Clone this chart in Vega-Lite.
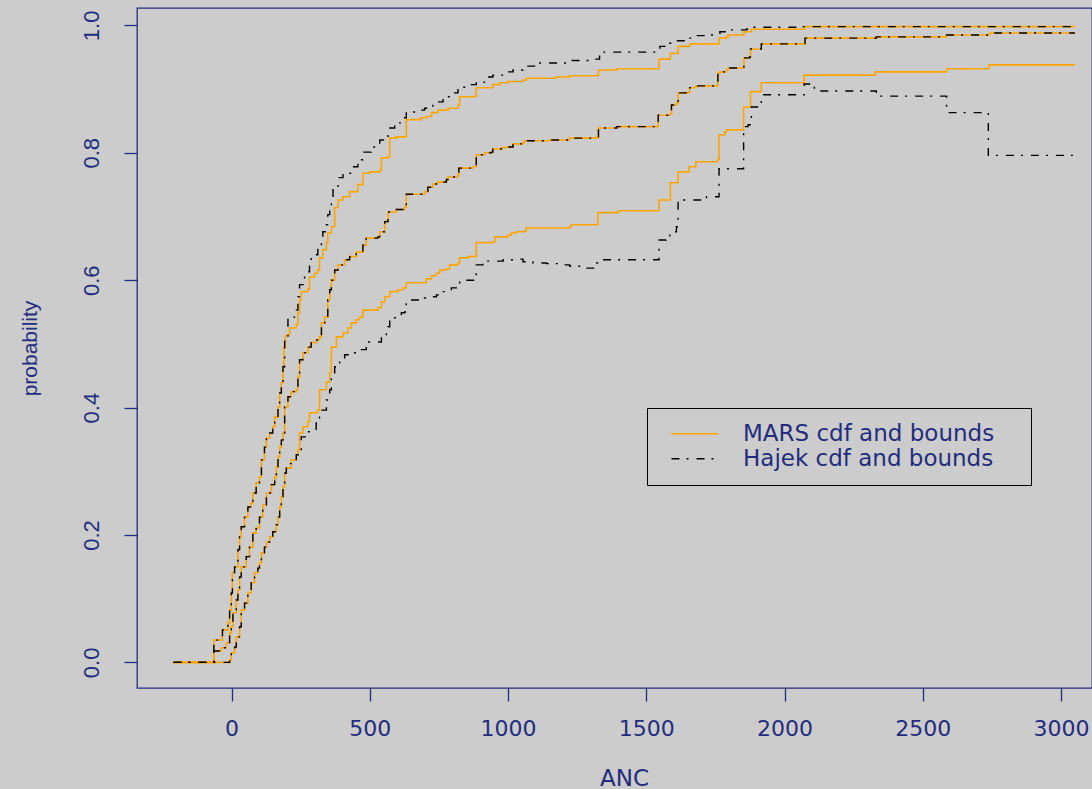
{
"$schema":"https://vega.github.io/schema/vega-lite/v6.json",
"width":955,"height":680,
"autosize":{"type":"none"},
"padding":{"left":137,"top":8,"right":0,"bottom":101},
"background":"#cccccc",
"config":{"view":{"stroke":"#232c7e","strokeWidth":1.3}},
"data":{"values":[
{"m":"MARS","s":"U","x":-210,"y":0},{"m":"MARS","s":"U","x":-64,"y":0.035},{"m":"MARS","s":"U","x":-33,"y":0.051},{"m":"MARS","s":"U","x":-13,"y":0.062},{"m":"MARS","s":"U","x":-7,"y":0.082},{"m":"MARS","s":"U","x":-1,"y":0.109},{"m":"MARS","s":"U","x":3,"y":0.141},{"m":"MARS","s":"U","x":11,"y":0.150},{"m":"MARS","s":"U","x":23,"y":0.177},{"m":"MARS","s":"U","x":29,"y":0.197},{"m":"MARS","s":"U","x":35,"y":0.213},{"m":"MARS","s":"U","x":47,"y":0.228},{"m":"MARS","s":"U","x":59,"y":0.244},{"m":"MARS","s":"U","x":71,"y":0.250},{"m":"MARS","s":"U","x":77,"y":0.266},{"m":"MARS","s":"U","x":89,"y":0.282},{"m":"MARS","s":"U","x":101,"y":0.291},{"m":"MARS","s":"U","x":108,"y":0.318},{"m":"MARS","s":"U","x":119,"y":0.338},{"m":"MARS","s":"U","x":126,"y":0.352},{"m":"MARS","s":"U","x":138,"y":0.360},{"m":"MARS","s":"U","x":149,"y":0.370},{"m":"MARS","s":"U","x":156,"y":0.385},{"m":"MARS","s":"U","x":168,"y":0.401},{"m":"MARS","s":"U","x":174,"y":0.423},{"m":"MARS","s":"U","x":180,"y":0.439},{"m":"MARS","s":"U","x":186,"y":0.464},{"m":"MARS","s":"U","x":189,"y":0.495},{"m":"MARS","s":"U","x":195,"y":0.514},{"m":"MARS","s":"U","x":210,"y":0.525},{"m":"MARS","s":"U","x":234,"y":0.530},{"m":"MARS","s":"U","x":240,"y":0.549},{"m":"MARS","s":"U","x":246,"y":0.569},{"m":"MARS","s":"U","x":252,"y":0.582},{"m":"MARS","s":"U","x":276,"y":0.586},{"m":"MARS","s":"U","x":282,"y":0.605},{"m":"MARS","s":"U","x":300,"y":0.611},{"m":"MARS","s":"U","x":312,"y":0.616},{"m":"MARS","s":"U","x":318,"y":0.635},{"m":"MARS","s":"U","x":330,"y":0.648},{"m":"MARS","s":"U","x":343,"y":0.659},{"m":"MARS","s":"U","x":348,"y":0.674},{"m":"MARS","s":"U","x":361,"y":0.684},{"m":"MARS","s":"U","x":373,"y":0.714},{"m":"MARS","s":"U","x":385,"y":0.726},{"m":"MARS","s":"U","x":403,"y":0.731},{"m":"MARS","s":"U","x":427,"y":0.739},{"m":"MARS","s":"U","x":457,"y":0.750},{"m":"MARS","s":"U","x":475,"y":0.768},{"m":"MARS","s":"U","x":499,"y":0.770},{"m":"MARS","s":"U","x":536,"y":0.773},{"m":"MARS","s":"U","x":542,"y":0.792},{"m":"MARS","s":"U","x":566,"y":0.794},{"m":"MARS","s":"U","x":572,"y":0.823},{"m":"MARS","s":"U","x":596,"y":0.825},{"m":"MARS","s":"U","x":632,"y":0.852},{"m":"MARS","s":"U","x":686,"y":0.855},{"m":"MARS","s":"U","x":704,"y":0.857},{"m":"MARS","s":"U","x":723,"y":0.863},{"m":"MARS","s":"U","x":746,"y":0.867},{"m":"MARS","s":"U","x":783,"y":0.870},{"m":"MARS","s":"U","x":819,"y":0.875},{"m":"MARS","s":"U","x":825,"y":0.888},{"m":"MARS","s":"U","x":879,"y":0.889},{"m":"MARS","s":"U","x":885,"y":0.902},{"m":"MARS","s":"U","x":945,"y":0.907},{"m":"MARS","s":"U","x":970,"y":0.910},{"m":"MARS","s":"U","x":1000,"y":0.912},{"m":"MARS","s":"U","x":1054,"y":0.914},{"m":"MARS","s":"U","x":1066,"y":0.917},{"m":"MARS","s":"U","x":1174,"y":0.919},{"m":"MARS","s":"U","x":1222,"y":0.921},{"m":"MARS","s":"U","x":1322,"y":0.922},{"m":"MARS","s":"U","x":1327,"y":0.930},{"m":"MARS","s":"U","x":1393,"y":0.932},{"m":"MARS","s":"U","x":1546,"y":0.947},{"m":"MARS","s":"U","x":1587,"y":0.956},{"m":"MARS","s":"U","x":1615,"y":0.967},{"m":"MARS","s":"U","x":1657,"y":0.971},{"m":"MARS","s":"U","x":1763,"y":0.980},{"m":"MARS","s":"U","x":1790,"y":0.982},{"m":"MARS","s":"U","x":1796,"y":0.985},{"m":"MARS","s":"U","x":1853,"y":0.990},{"m":"MARS","s":"U","x":1880,"y":0.994},{"m":"MARS","s":"U","x":2073,"y":0.998},{"m":"MARS","s":"U","x":3050,"y":0.998},
{"m":"Hajek","s":"U","x":-210,"y":0},{"m":"Hajek","s":"U","x":-64,"y":0.035},{"m":"Hajek","s":"U","x":-33,"y":0.051},{"m":"Hajek","s":"U","x":-13,"y":0.062},{"m":"Hajek","s":"U","x":-7,"y":0.082},{"m":"Hajek","s":"U","x":-1,"y":0.109},{"m":"Hajek","s":"U","x":3,"y":0.141},{"m":"Hajek","s":"U","x":11,"y":0.150},{"m":"Hajek","s":"U","x":23,"y":0.177},{"m":"Hajek","s":"U","x":29,"y":0.197},{"m":"Hajek","s":"U","x":35,"y":0.213},{"m":"Hajek","s":"U","x":47,"y":0.228},{"m":"Hajek","s":"U","x":59,"y":0.244},{"m":"Hajek","s":"U","x":71,"y":0.250},{"m":"Hajek","s":"U","x":77,"y":0.266},{"m":"Hajek","s":"U","x":89,"y":0.282},{"m":"Hajek","s":"U","x":101,"y":0.291},{"m":"Hajek","s":"U","x":108,"y":0.318},{"m":"Hajek","s":"U","x":119,"y":0.338},{"m":"Hajek","s":"U","x":126,"y":0.352},{"m":"Hajek","s":"U","x":138,"y":0.360},{"m":"Hajek","s":"U","x":149,"y":0.370},{"m":"Hajek","s":"U","x":156,"y":0.385},{"m":"Hajek","s":"U","x":168,"y":0.401},{"m":"Hajek","s":"U","x":174,"y":0.423},{"m":"Hajek","s":"U","x":180,"y":0.439},{"m":"Hajek","s":"U","x":186,"y":0.464},{"m":"Hajek","s":"U","x":192,"y":0.511},{"m":"Hajek","s":"U","x":204,"y":0.541},{"m":"Hajek","s":"U","x":216,"y":0.542},{"m":"Hajek","s":"U","x":234,"y":0.553},{"m":"Hajek","s":"U","x":240,"y":0.574},{"m":"Hajek","s":"U","x":246,"y":0.593},{"m":"Hajek","s":"U","x":264,"y":0.613},{"m":"Hajek","s":"U","x":282,"y":0.627},{"m":"Hajek","s":"U","x":288,"y":0.635},{"m":"Hajek","s":"U","x":300,"y":0.640},{"m":"Hajek","s":"U","x":312,"y":0.652},{"m":"Hajek","s":"U","x":325,"y":0.668},{"m":"Hajek","s":"U","x":330,"y":0.676},{"m":"Hajek","s":"U","x":343,"y":0.687},{"m":"Hajek","s":"U","x":348,"y":0.703},{"m":"Hajek","s":"U","x":355,"y":0.715},{"m":"Hajek","s":"U","x":361,"y":0.726},{"m":"Hajek","s":"U","x":367,"y":0.746},{"m":"Hajek","s":"U","x":385,"y":0.761},{"m":"Hajek","s":"U","x":403,"y":0.768},{"m":"Hajek","s":"U","x":433,"y":0.778},{"m":"Hajek","s":"U","x":457,"y":0.789},{"m":"Hajek","s":"U","x":475,"y":0.801},{"m":"Hajek","s":"U","x":505,"y":0.809},{"m":"Hajek","s":"U","x":536,"y":0.820},{"m":"Hajek","s":"U","x":566,"y":0.839},{"m":"Hajek","s":"U","x":590,"y":0.847},{"m":"Hajek","s":"U","x":626,"y":0.855},{"m":"Hajek","s":"U","x":632,"y":0.864},{"m":"Hajek","s":"U","x":674,"y":0.867},{"m":"Hajek","s":"U","x":698,"y":0.870},{"m":"Hajek","s":"U","x":728,"y":0.880},{"m":"Hajek","s":"U","x":765,"y":0.888},{"m":"Hajek","s":"U","x":801,"y":0.894},{"m":"Hajek","s":"U","x":819,"y":0.903},{"m":"Hajek","s":"U","x":861,"y":0.907},{"m":"Hajek","s":"U","x":885,"y":0.911},{"m":"Hajek","s":"U","x":922,"y":0.919},{"m":"Hajek","s":"U","x":945,"y":0.922},{"m":"Hajek","s":"U","x":988,"y":0.927},{"m":"Hajek","s":"U","x":1018,"y":0.930},{"m":"Hajek","s":"U","x":1054,"y":0.936},{"m":"Hajek","s":"U","x":1096,"y":0.941},{"m":"Hajek","s":"U","x":1216,"y":0.945},{"m":"Hajek","s":"U","x":1297,"y":0.947},{"m":"Hajek","s":"U","x":1331,"y":0.958},{"m":"Hajek","s":"U","x":1549,"y":0.967},{"m":"Hajek","s":"U","x":1585,"y":0.972},{"m":"Hajek","s":"U","x":1603,"y":0.976},{"m":"Hajek","s":"U","x":1645,"y":0.980},{"m":"Hajek","s":"U","x":1669,"y":0.984},{"m":"Hajek","s":"U","x":1717,"y":0.985},{"m":"Hajek","s":"U","x":1754,"y":0.987},{"m":"Hajek","s":"U","x":1766,"y":0.990},{"m":"Hajek","s":"U","x":1790,"y":0.993},{"m":"Hajek","s":"U","x":1862,"y":0.994},{"m":"Hajek","s":"U","x":1880,"y":0.997},{"m":"Hajek","s":"U","x":2067,"y":0.998},{"m":"Hajek","s":"U","x":3050,"y":0.999},
{"m":"MARS","s":"M","x":-210,"y":0},{"m":"MARS","s":"M","x":-64,"y":0.018},{"m":"MARS","s":"M","x":-37,"y":0.023},{"m":"MARS","s":"M","x":-19,"y":0.031},{"m":"MARS","s":"M","x":-7,"y":0.046},{"m":"MARS","s":"M","x":-1,"y":0.056},{"m":"MARS","s":"M","x":5,"y":0.078},{"m":"MARS","s":"M","x":17,"y":0.098},{"m":"MARS","s":"M","x":23,"y":0.114},{"m":"MARS","s":"M","x":29,"y":0.134},{"m":"MARS","s":"M","x":35,"y":0.150},{"m":"MARS","s":"M","x":53,"y":0.166},{"m":"MARS","s":"M","x":65,"y":0.181},{"m":"MARS","s":"M","x":77,"y":0.203},{"m":"MARS","s":"M","x":89,"y":0.211},{"m":"MARS","s":"M","x":101,"y":0.228},{"m":"MARS","s":"M","x":113,"y":0.247},{"m":"MARS","s":"M","x":126,"y":0.266},{"m":"MARS","s":"M","x":144,"y":0.279},{"m":"MARS","s":"M","x":156,"y":0.291},{"m":"MARS","s":"M","x":162,"y":0.307},{"m":"MARS","s":"M","x":168,"y":0.323},{"m":"MARS","s":"M","x":174,"y":0.338},{"m":"MARS","s":"M","x":180,"y":0.349},{"m":"MARS","s":"M","x":186,"y":0.360},{"m":"MARS","s":"M","x":192,"y":0.401},{"m":"MARS","s":"M","x":204,"y":0.417},{"m":"MARS","s":"M","x":216,"y":0.425},{"m":"MARS","s":"M","x":234,"y":0.428},{"m":"MARS","s":"M","x":240,"y":0.448},{"m":"MARS","s":"M","x":246,"y":0.475},{"m":"MARS","s":"M","x":258,"y":0.486},{"m":"MARS","s":"M","x":276,"y":0.495},{"m":"MARS","s":"M","x":288,"y":0.502},{"m":"MARS","s":"M","x":306,"y":0.506},{"m":"MARS","s":"M","x":318,"y":0.511},{"m":"MARS","s":"M","x":325,"y":0.533},{"m":"MARS","s":"M","x":337,"y":0.542},{"m":"MARS","s":"M","x":348,"y":0.569},{"m":"MARS","s":"M","x":355,"y":0.585},{"m":"MARS","s":"M","x":361,"y":0.600},{"m":"MARS","s":"M","x":373,"y":0.616},{"m":"MARS","s":"M","x":385,"y":0.624},{"m":"MARS","s":"M","x":409,"y":0.632},{"m":"MARS","s":"M","x":427,"y":0.637},{"m":"MARS","s":"M","x":451,"y":0.644},{"m":"MARS","s":"M","x":475,"y":0.655},{"m":"MARS","s":"M","x":487,"y":0.666},{"m":"MARS","s":"M","x":529,"y":0.668},{"m":"MARS","s":"M","x":536,"y":0.676},{"m":"MARS","s":"M","x":554,"y":0.692},{"m":"MARS","s":"M","x":566,"y":0.707},{"m":"MARS","s":"M","x":596,"y":0.711},{"m":"MARS","s":"M","x":626,"y":0.715},{"m":"MARS","s":"M","x":632,"y":0.735},{"m":"MARS","s":"M","x":698,"y":0.739},{"m":"MARS","s":"M","x":710,"y":0.746},{"m":"MARS","s":"M","x":728,"y":0.751},{"m":"MARS","s":"M","x":746,"y":0.754},{"m":"MARS","s":"M","x":777,"y":0.758},{"m":"MARS","s":"M","x":783,"y":0.762},{"m":"MARS","s":"M","x":819,"y":0.765},{"m":"MARS","s":"M","x":822,"y":0.776},{"m":"MARS","s":"M","x":873,"y":0.778},{"m":"MARS","s":"M","x":885,"y":0.797},{"m":"MARS","s":"M","x":915,"y":0.800},{"m":"MARS","s":"M","x":940,"y":0.801},{"m":"MARS","s":"M","x":945,"y":0.806},{"m":"MARS","s":"M","x":976,"y":0.808},{"m":"MARS","s":"M","x":994,"y":0.809},{"m":"MARS","s":"M","x":1018,"y":0.814},{"m":"MARS","s":"M","x":1054,"y":0.816},{"m":"MARS","s":"M","x":1060,"y":0.819},{"m":"MARS","s":"M","x":1150,"y":0.820},{"m":"MARS","s":"M","x":1222,"y":0.823},{"m":"MARS","s":"M","x":1322,"y":0.825},{"m":"MARS","s":"M","x":1327,"y":0.839},{"m":"MARS","s":"M","x":1393,"y":0.841},{"m":"MARS","s":"M","x":1543,"y":0.859},{"m":"MARS","s":"M","x":1585,"y":0.861},{"m":"MARS","s":"M","x":1591,"y":0.875},{"m":"MARS","s":"M","x":1609,"y":0.878},{"m":"MARS","s":"M","x":1615,"y":0.894},{"m":"MARS","s":"M","x":1651,"y":0.895},{"m":"MARS","s":"M","x":1657,"y":0.902},{"m":"MARS","s":"M","x":1675,"y":0.903},{"m":"MARS","s":"M","x":1681,"y":0.905},{"m":"MARS","s":"M","x":1759,"y":0.925},{"m":"MARS","s":"M","x":1766,"y":0.927},{"m":"MARS","s":"M","x":1790,"y":0.930},{"m":"MARS","s":"M","x":1796,"y":0.933},{"m":"MARS","s":"M","x":1853,"y":0.949},{"m":"MARS","s":"M","x":1874,"y":0.951},{"m":"MARS","s":"M","x":1877,"y":0.963},{"m":"MARS","s":"M","x":1916,"y":0.971},{"m":"MARS","s":"M","x":2074,"y":0.980},{"m":"MARS","s":"M","x":2332,"y":0.982},{"m":"MARS","s":"M","x":2586,"y":0.985},{"m":"MARS","s":"M","x":2742,"y":0.988},{"m":"MARS","s":"M","x":3050,"y":0.988},
{"m":"Hajek","s":"M","x":-210,"y":0},{"m":"Hajek","s":"M","x":-64,"y":0.018},{"m":"Hajek","s":"M","x":-37,"y":0.023},{"m":"Hajek","s":"M","x":-19,"y":0.031},{"m":"Hajek","s":"M","x":-7,"y":0.046},{"m":"Hajek","s":"M","x":-1,"y":0.056},{"m":"Hajek","s":"M","x":5,"y":0.078},{"m":"Hajek","s":"M","x":17,"y":0.098},{"m":"Hajek","s":"M","x":23,"y":0.114},{"m":"Hajek","s":"M","x":29,"y":0.134},{"m":"Hajek","s":"M","x":35,"y":0.150},{"m":"Hajek","s":"M","x":53,"y":0.166},{"m":"Hajek","s":"M","x":65,"y":0.181},{"m":"Hajek","s":"M","x":77,"y":0.203},{"m":"Hajek","s":"M","x":89,"y":0.211},{"m":"Hajek","s":"M","x":101,"y":0.228},{"m":"Hajek","s":"M","x":113,"y":0.247},{"m":"Hajek","s":"M","x":126,"y":0.266},{"m":"Hajek","s":"M","x":144,"y":0.279},{"m":"Hajek","s":"M","x":156,"y":0.291},{"m":"Hajek","s":"M","x":162,"y":0.307},{"m":"Hajek","s":"M","x":168,"y":0.323},{"m":"Hajek","s":"M","x":174,"y":0.338},{"m":"Hajek","s":"M","x":180,"y":0.349},{"m":"Hajek","s":"M","x":186,"y":0.360},{"m":"Hajek","s":"M","x":192,"y":0.401},{"m":"Hajek","s":"M","x":204,"y":0.417},{"m":"Hajek","s":"M","x":216,"y":0.425},{"m":"Hajek","s":"M","x":234,"y":0.428},{"m":"Hajek","s":"M","x":240,"y":0.448},{"m":"Hajek","s":"M","x":246,"y":0.475},{"m":"Hajek","s":"M","x":258,"y":0.486},{"m":"Hajek","s":"M","x":276,"y":0.495},{"m":"Hajek","s":"M","x":288,"y":0.502},{"m":"Hajek","s":"M","x":306,"y":0.506},{"m":"Hajek","s":"M","x":318,"y":0.511},{"m":"Hajek","s":"M","x":325,"y":0.533},{"m":"Hajek","s":"M","x":337,"y":0.542},{"m":"Hajek","s":"M","x":348,"y":0.569},{"m":"Hajek","s":"M","x":355,"y":0.585},{"m":"Hajek","s":"M","x":361,"y":0.600},{"m":"Hajek","s":"M","x":373,"y":0.616},{"m":"Hajek","s":"M","x":385,"y":0.624},{"m":"Hajek","s":"M","x":409,"y":0.632},{"m":"Hajek","s":"M","x":427,"y":0.637},{"m":"Hajek","s":"M","x":451,"y":0.644},{"m":"Hajek","s":"M","x":475,"y":0.655},{"m":"Hajek","s":"M","x":487,"y":0.666},{"m":"Hajek","s":"M","x":529,"y":0.668},{"m":"Hajek","s":"M","x":536,"y":0.676},{"m":"Hajek","s":"M","x":554,"y":0.692},{"m":"Hajek","s":"M","x":566,"y":0.707},{"m":"Hajek","s":"M","x":596,"y":0.711},{"m":"Hajek","s":"M","x":626,"y":0.715},{"m":"Hajek","s":"M","x":632,"y":0.735},{"m":"Hajek","s":"M","x":698,"y":0.739},{"m":"Hajek","s":"M","x":710,"y":0.746},{"m":"Hajek","s":"M","x":728,"y":0.751},{"m":"Hajek","s":"M","x":746,"y":0.754},{"m":"Hajek","s":"M","x":777,"y":0.758},{"m":"Hajek","s":"M","x":783,"y":0.762},{"m":"Hajek","s":"M","x":819,"y":0.765},{"m":"Hajek","s":"M","x":822,"y":0.776},{"m":"Hajek","s":"M","x":873,"y":0.778},{"m":"Hajek","s":"M","x":885,"y":0.797},{"m":"Hajek","s":"M","x":915,"y":0.800},{"m":"Hajek","s":"M","x":940,"y":0.801},{"m":"Hajek","s":"M","x":945,"y":0.806},{"m":"Hajek","s":"M","x":976,"y":0.808},{"m":"Hajek","s":"M","x":994,"y":0.809},{"m":"Hajek","s":"M","x":1018,"y":0.814},{"m":"Hajek","s":"M","x":1054,"y":0.816},{"m":"Hajek","s":"M","x":1060,"y":0.819},{"m":"Hajek","s":"M","x":1150,"y":0.820},{"m":"Hajek","s":"M","x":1222,"y":0.823},{"m":"Hajek","s":"M","x":1322,"y":0.825},{"m":"Hajek","s":"M","x":1327,"y":0.839},{"m":"Hajek","s":"M","x":1393,"y":0.841},{"m":"Hajek","s":"M","x":1543,"y":0.859},{"m":"Hajek","s":"M","x":1585,"y":0.861},{"m":"Hajek","s":"M","x":1591,"y":0.875},{"m":"Hajek","s":"M","x":1609,"y":0.878},{"m":"Hajek","s":"M","x":1615,"y":0.894},{"m":"Hajek","s":"M","x":1651,"y":0.895},{"m":"Hajek","s":"M","x":1657,"y":0.902},{"m":"Hajek","s":"M","x":1675,"y":0.903},{"m":"Hajek","s":"M","x":1681,"y":0.905},{"m":"Hajek","s":"M","x":1759,"y":0.925},{"m":"Hajek","s":"M","x":1766,"y":0.927},{"m":"Hajek","s":"M","x":1790,"y":0.930},{"m":"Hajek","s":"M","x":1796,"y":0.933},{"m":"Hajek","s":"M","x":1853,"y":0.949},{"m":"Hajek","s":"M","x":1874,"y":0.951},{"m":"Hajek","s":"M","x":1877,"y":0.963},{"m":"Hajek","s":"M","x":1916,"y":0.971},{"m":"Hajek","s":"M","x":2074,"y":0.980},{"m":"Hajek","s":"M","x":2332,"y":0.982},{"m":"Hajek","s":"M","x":2586,"y":0.985},{"m":"Hajek","s":"M","x":2742,"y":0.988},{"m":"Hajek","s":"M","x":3050,"y":0.988},
{"m":"MARS","s":"L","x":-210,"y":0},{"m":"MARS","s":"L","x":-7,"y":0.004},{"m":"MARS","s":"L","x":-1,"y":0.015},{"m":"MARS","s":"L","x":11,"y":0.024},{"m":"MARS","s":"L","x":17,"y":0.040},{"m":"MARS","s":"L","x":29,"y":0.056},{"m":"MARS","s":"L","x":35,"y":0.082},{"m":"MARS","s":"L","x":47,"y":0.093},{"m":"MARS","s":"L","x":59,"y":0.109},{"m":"MARS","s":"L","x":71,"y":0.125},{"m":"MARS","s":"L","x":83,"y":0.141},{"m":"MARS","s":"L","x":95,"y":0.148},{"m":"MARS","s":"L","x":101,"y":0.156},{"m":"MARS","s":"L","x":108,"y":0.172},{"m":"MARS","s":"L","x":119,"y":0.181},{"m":"MARS","s":"L","x":126,"y":0.189},{"m":"MARS","s":"L","x":138,"y":0.197},{"m":"MARS","s":"L","x":149,"y":0.205},{"m":"MARS","s":"L","x":162,"y":0.216},{"m":"MARS","s":"L","x":168,"y":0.228},{"m":"MARS","s":"L","x":174,"y":0.244},{"m":"MARS","s":"L","x":180,"y":0.260},{"m":"MARS","s":"L","x":186,"y":0.276},{"m":"MARS","s":"L","x":192,"y":0.297},{"m":"MARS","s":"L","x":198,"y":0.305},{"m":"MARS","s":"L","x":216,"y":0.318},{"m":"MARS","s":"L","x":234,"y":0.326},{"m":"MARS","s":"L","x":240,"y":0.334},{"m":"MARS","s":"L","x":246,"y":0.360},{"m":"MARS","s":"L","x":258,"y":0.370},{"m":"MARS","s":"L","x":276,"y":0.378},{"m":"MARS","s":"L","x":282,"y":0.392},{"m":"MARS","s":"L","x":312,"y":0.396},{"m":"MARS","s":"L","x":318,"y":0.428},{"m":"MARS","s":"L","x":343,"y":0.440},{"m":"MARS","s":"L","x":355,"y":0.455},{"m":"MARS","s":"L","x":361,"y":0.495},{"m":"MARS","s":"L","x":379,"y":0.511},{"m":"MARS","s":"L","x":403,"y":0.517},{"m":"MARS","s":"L","x":421,"y":0.525},{"m":"MARS","s":"L","x":433,"y":0.533},{"m":"MARS","s":"L","x":451,"y":0.538},{"m":"MARS","s":"L","x":463,"y":0.542},{"m":"MARS","s":"L","x":475,"y":0.553},{"m":"MARS","s":"L","x":529,"y":0.557},{"m":"MARS","s":"L","x":542,"y":0.566},{"m":"MARS","s":"L","x":554,"y":0.574},{"m":"MARS","s":"L","x":572,"y":0.582},{"m":"MARS","s":"L","x":602,"y":0.585},{"m":"MARS","s":"L","x":620,"y":0.588},{"m":"MARS","s":"L","x":632,"y":0.596},{"m":"MARS","s":"L","x":704,"y":0.602},{"m":"MARS","s":"L","x":723,"y":0.607},{"m":"MARS","s":"L","x":741,"y":0.611},{"m":"MARS","s":"L","x":753,"y":0.616},{"m":"MARS","s":"L","x":777,"y":0.618},{"m":"MARS","s":"L","x":789,"y":0.624},{"m":"MARS","s":"L","x":819,"y":0.627},{"m":"MARS","s":"L","x":825,"y":0.635},{"m":"MARS","s":"L","x":855,"y":0.637},{"m":"MARS","s":"L","x":885,"y":0.659},{"m":"MARS","s":"L","x":945,"y":0.660},{"m":"MARS","s":"L","x":952,"y":0.668},{"m":"MARS","s":"L","x":1000,"y":0.671},{"m":"MARS","s":"L","x":1012,"y":0.674},{"m":"MARS","s":"L","x":1030,"y":0.676},{"m":"MARS","s":"L","x":1060,"y":0.677},{"m":"MARS","s":"L","x":1066,"y":0.682},{"m":"MARS","s":"L","x":1223,"y":0.684},{"m":"MARS","s":"L","x":1229,"y":0.687},{"m":"MARS","s":"L","x":1325,"y":0.706},{"m":"MARS","s":"L","x":1398,"y":0.709},{"m":"MARS","s":"L","x":1546,"y":0.726},{"m":"MARS","s":"L","x":1587,"y":0.753},{"m":"MARS","s":"L","x":1615,"y":0.770},{"m":"MARS","s":"L","x":1655,"y":0.778},{"m":"MARS","s":"L","x":1679,"y":0.786},{"m":"MARS","s":"L","x":1759,"y":0.790},{"m":"MARS","s":"L","x":1763,"y":0.828},{"m":"MARS","s":"L","x":1784,"y":0.833},{"m":"MARS","s":"L","x":1790,"y":0.836},{"m":"MARS","s":"L","x":1852,"y":0.872},{"m":"MARS","s":"L","x":1877,"y":0.896},{"m":"MARS","s":"L","x":1916,"y":0.910},{"m":"MARS","s":"L","x":2071,"y":0.922},{"m":"MARS","s":"L","x":2328,"y":0.927},{"m":"MARS","s":"L","x":2586,"y":0.932},{"m":"MARS","s":"L","x":2740,"y":0.938},{"m":"MARS","s":"L","x":3050,"y":0.938},
{"m":"Hajek","s":"L","x":-210,"y":0},{"m":"Hajek","s":"L","x":-7,"y":0.004},{"m":"Hajek","s":"L","x":-1,"y":0.015},{"m":"Hajek","s":"L","x":11,"y":0.024},{"m":"Hajek","s":"L","x":17,"y":0.040},{"m":"Hajek","s":"L","x":29,"y":0.056},{"m":"Hajek","s":"L","x":35,"y":0.082},{"m":"Hajek","s":"L","x":47,"y":0.093},{"m":"Hajek","s":"L","x":59,"y":0.109},{"m":"Hajek","s":"L","x":71,"y":0.125},{"m":"Hajek","s":"L","x":83,"y":0.141},{"m":"Hajek","s":"L","x":95,"y":0.148},{"m":"Hajek","s":"L","x":101,"y":0.156},{"m":"Hajek","s":"L","x":108,"y":0.172},{"m":"Hajek","s":"L","x":119,"y":0.181},{"m":"Hajek","s":"L","x":126,"y":0.189},{"m":"Hajek","s":"L","x":138,"y":0.197},{"m":"Hajek","s":"L","x":149,"y":0.205},{"m":"Hajek","s":"L","x":162,"y":0.216},{"m":"Hajek","s":"L","x":168,"y":0.228},{"m":"Hajek","s":"L","x":174,"y":0.244},{"m":"Hajek","s":"L","x":180,"y":0.260},{"m":"Hajek","s":"L","x":186,"y":0.276},{"m":"Hajek","s":"L","x":192,"y":0.297},{"m":"Hajek","s":"L","x":198,"y":0.305},{"m":"Hajek","s":"L","x":213,"y":0.312},{"m":"Hajek","s":"L","x":234,"y":0.326},{"m":"Hajek","s":"L","x":252,"y":0.354},{"m":"Hajek","s":"L","x":276,"y":0.362},{"m":"Hajek","s":"L","x":306,"y":0.376},{"m":"Hajek","s":"L","x":318,"y":0.396},{"m":"Hajek","s":"L","x":343,"y":0.412},{"m":"Hajek","s":"L","x":355,"y":0.428},{"m":"Hajek","s":"L","x":361,"y":0.448},{"m":"Hajek","s":"L","x":373,"y":0.464},{"m":"Hajek","s":"L","x":391,"y":0.478},{"m":"Hajek","s":"L","x":409,"y":0.483},{"m":"Hajek","s":"L","x":433,"y":0.486},{"m":"Hajek","s":"L","x":463,"y":0.491},{"m":"Hajek","s":"L","x":487,"y":0.503},{"m":"Hajek","s":"L","x":542,"y":0.511},{"m":"Hajek","s":"L","x":560,"y":0.519},{"m":"Hajek","s":"L","x":566,"y":0.527},{"m":"Hajek","s":"L","x":572,"y":0.541},{"m":"Hajek","s":"L","x":596,"y":0.546},{"m":"Hajek","s":"L","x":614,"y":0.549},{"m":"Hajek","s":"L","x":626,"y":0.550},{"m":"Hajek","s":"L","x":632,"y":0.569},{"m":"Hajek","s":"L","x":698,"y":0.572},{"m":"Hajek","s":"L","x":716,"y":0.574},{"m":"Hajek","s":"L","x":741,"y":0.577},{"m":"Hajek","s":"L","x":759,"y":0.582},{"m":"Hajek","s":"L","x":777,"y":0.583},{"m":"Hajek","s":"L","x":795,"y":0.588},{"m":"Hajek","s":"L","x":819,"y":0.593},{"m":"Hajek","s":"L","x":825,"y":0.600},{"m":"Hajek","s":"L","x":885,"y":0.624},{"m":"Hajek","s":"L","x":909,"y":0.630},{"m":"Hajek","s":"L","x":982,"y":0.632},{"m":"Hajek","s":"L","x":1018,"y":0.633},{"m":"Hajek","s":"L","x":1054,"y":0.629},{"m":"Hajek","s":"L","x":1090,"y":0.627},{"m":"Hajek","s":"L","x":1139,"y":0.626},{"m":"Hajek","s":"L","x":1187,"y":0.624},{"m":"Hajek","s":"L","x":1223,"y":0.622},{"m":"Hajek","s":"L","x":1271,"y":0.619},{"m":"Hajek","s":"L","x":1320,"y":0.627},{"m":"Hajek","s":"L","x":1331,"y":0.632},{"m":"Hajek","s":"L","x":1546,"y":0.663},{"m":"Hajek","s":"L","x":1572,"y":0.668},{"m":"Hajek","s":"L","x":1585,"y":0.676},{"m":"Hajek","s":"L","x":1609,"y":0.684},{"m":"Hajek","s":"L","x":1615,"y":0.726},{"m":"Hajek","s":"L","x":1718,"y":0.731},{"m":"Hajek","s":"L","x":1763,"y":0.775},{"m":"Hajek","s":"L","x":1852,"y":0.841},{"m":"Hajek","s":"L","x":1868,"y":0.844},{"m":"Hajek","s":"L","x":1880,"y":0.872},{"m":"Hajek","s":"L","x":1916,"y":0.891},{"m":"Hajek","s":"L","x":2071,"y":0.908},{"m":"Hajek","s":"L","x":2108,"y":0.897},{"m":"Hajek","s":"L","x":2332,"y":0.889},{"m":"Hajek","s":"L","x":2586,"y":0.863},{"m":"Hajek","s":"L","x":2737,"y":0.796},{"m":"Hajek","s":"L","x":3050,"y":0.796}
]},
"encoding":{
"x":{"field":"x","type":"quantitative","scale":{"domain":[-342,3112],"nice":false,"zero":false},
"axis":{"values":[0,500,1000,1500,2000,2500,3000],"format":"d","grid":false,"domain":false,"tickColor":"#232c7e","tickSize":13,"tickWidth":1.3,"labelColor":"#232c7e","labelFont":"DejaVu Sans","labelFontSize":22,"labelPadding":17,"labelFlush":false,"labelOverlap":false,"title":"ANC","titleFont":"DejaVu Sans","titleFontSize":23,"titleFontWeight":"normal","titleColor":"#232c7e","titleX":487,"titleY":97,"titleBaseline":"alphabetic","titleAlign":"center"}},
"y":{"field":"y","type":"quantitative","scale":{"domain":[-0.0402,1.0273],"nice":false,"zero":false},
"axis":{"values":[0,0.2,0.4,0.6,0.8,1],"format":".1f","grid":false,"domain":false,"tickColor":"#232c7e","tickSize":13,"tickWidth":1.3,"labelColor":"#232c7e","labelFont":"Liberation Sans","labelFontSize":22,"labelAngle":270,"labelAlign":"center","labelBaseline":"bottom","labelPadding":21,"labelFlush":false,"labelOverlap":false,"title":"probability","titleFont":"Liberation Sans","titleFontSize":21,"titleFontWeight":"normal","titleColor":"#232c7e","titleAngle":270,"titleX":-107,"titleY":340,"titleBaseline":"middle","titleAlign":"center"}},
"color":{"field":"m","type":"nominal","scale":{"domain":["MARS","Hajek"],"range":["#ffa500","#000000"]},
"legend":{"title":null,"orient":"none","legendX":510,"legendY":400,"symbolType":"M-2.35,0H2.35","symbolSize":400,"symbolStrokeWidth":1.5,"labelFont":"DejaVu Sans","labelFontSize":23,"labelColor":"#232c7e","labelOffset":36.5,"symbolOffset":22.3,"padding":14.2,"rowPadding":1,"strokeColor":"#000000","labelLimit":600,"labelExpr":"datum.label + ' cdf and bounds   \u200b'"}},
"strokeDash":{"field":"m","type":"nominal","scale":{"domain":["MARS","Hajek"],"range":[[1,0],[8,7,2,8]]},
"legend":{"title":null,"orient":"none","legendX":510,"legendY":400,"symbolType":"M-2.35,0H2.35","symbolSize":400,"symbolStrokeWidth":1.5,"labelFont":"DejaVu Sans","labelFontSize":23,"labelColor":"#232c7e","labelOffset":36.5,"symbolOffset":22.3,"padding":14.2,"rowPadding":1,"strokeColor":"#000000","labelLimit":600,"labelExpr":"datum.label + ' cdf and bounds   \u200b'"}},
"detail":{"field":"s","type":"nominal"}
},
"layer":[
{"transform":[{"filter":"datum.m === 'MARS'"}],"mark":{"type":"line","interpolate":"step-after","strokeWidth":1.6,"strokeCap":"butt"}},
{"transform":[{"filter":"datum.m === 'Hajek'"}],"mark":{"type":"line","interpolate":"step-after","strokeWidth":1.4,"strokeCap":"butt"}}
]
}
